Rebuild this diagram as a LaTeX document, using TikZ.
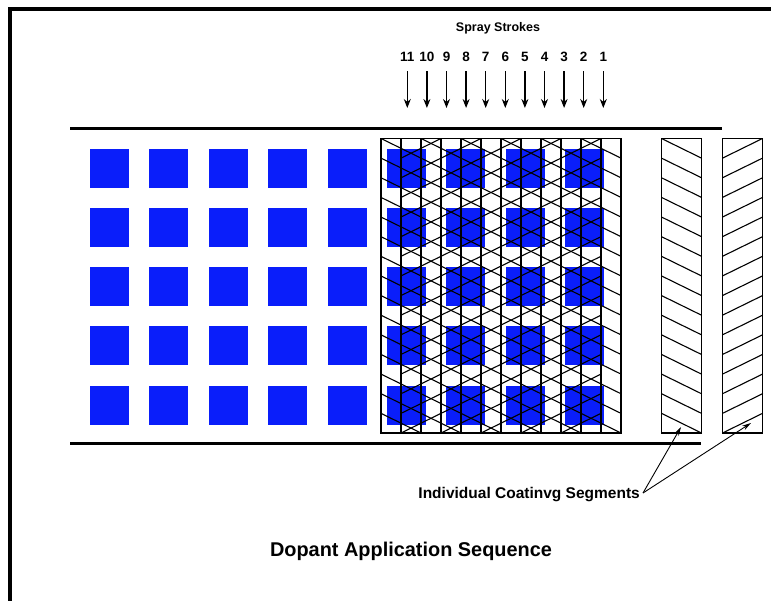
\documentclass[tikz,border=0pt]{standalone}
\usepackage{fontspec}
\setmainfont{Liberation Sans}
\usetikzlibrary{arrows.meta}
\definecolor{dopant}{RGB}{10,30,250}
\begin{document}
\begin{tikzpicture}[x=1pt,y=-1pt,
  sq/.style={fill=dopant, draw=none},
  hatchline/.style={line width=1.1pt, line cap=round},
  rail/.style={line width=3pt},
  frame/.style={line width=4pt},
  strokearrow/.style={line width=1.3pt,-{Stealth[length=9pt,width=7pt]}},
  pointer/.style={line width=0.9pt,-{Stealth[length=9pt,width=5pt]}},
  lbl/.style={font=\bfseries, inner sep=0pt}]
\useasboundingbox (0,0) rectangle (771,600);
% outer frame
\draw[frame] (10,602) -- (10,9) -- (775,9);
% rails
\draw[rail] (70,128.5) -- (722,128.5);
\draw[rail] (70,443) -- (701,443);
% dopant squares
\foreach \i in {0,...,8}{
  \foreach \j in {0,...,4}{
    \fill[sq] (90+\i*59.4,148.5+\j*59.3) rectangle ++(39,39);
  }
}
% overlapping spray strokes (odd strokes: falling hatch)
\foreach \k in {1,3,5,7,9,11}{
  \pgfmathsetmacro\L{581-(\k-1)*20}
  \draw[hatchline] (\L,138.5) rectangle ++(40,294.5);
  \foreach \j in {0,...,14}
    \draw[hatchline] (\L,138.5+\j*19.633) -- ++(40,19.633);
}
% even strokes: rising hatch
\foreach \k in {2,4,6,8,10}{
  \pgfmathsetmacro\L{581-(\k-1)*20}
  \draw[hatchline] (\L,138.5) rectangle ++(40,294.5);
  \foreach \j in {0,...,14}
    \draw[hatchline] (\L+40,138.5+\j*19.633) -- ++(-40,19.633);
}
% individual segments
\draw[hatchline] (661.5,138.5) rectangle ++(40,294.5);
\foreach \j in {0,...,14}
  \draw[hatchline] (661.5,138.5+\j*19.633) -- ++(40,19.633);
\draw[hatchline] (722.5,138.5) rectangle ++(40,294.5);
\foreach \j in {0,...,14}
  \draw[hatchline] (762.5,138.5+\j*19.633) -- ++(-40,19.633);
\coordinate (segA) at (681,427);
\coordinate (segB) at (751,423);
% titles
\node[lbl, font=\bfseries\fontsize{12.5}{14}\selectfont] (spray) at (498,28) {Spray Strokes};
\foreach \n [count=\i] in {11,10,9,8,7,6,5,4,3,2,1}{
  \node[lbl, font=\bfseries\fontsize{13.5}{15}\selectfont] (num\n) at (407.3+\i*19.6-19.6,57) {\n};
  \coordinate (top\n) at (407.3+\i*19.6-19.6,71);
  \coordinate (bot\n) at (407.3+\i*19.6-19.6,108);
  \draw[strokearrow] (top\n) -- (bot\n);
}
\node[lbl, font=\bfseries\fontsize{15.5}{18}\selectfont, anchor=east] (segtext) at (640,495) {Individual Coatinvg Segments};
\coordinate (ptr) at (643,493);
\draw[pointer] (ptr) -- (segA);
\draw[pointer] (ptr) -- (segB);
\node[lbl, font=\bfseries\fontsize{19.9}{23}\selectfont] (title) at (411,551) {Dopant Application Sequence};
\end{tikzpicture}
\end{document}
